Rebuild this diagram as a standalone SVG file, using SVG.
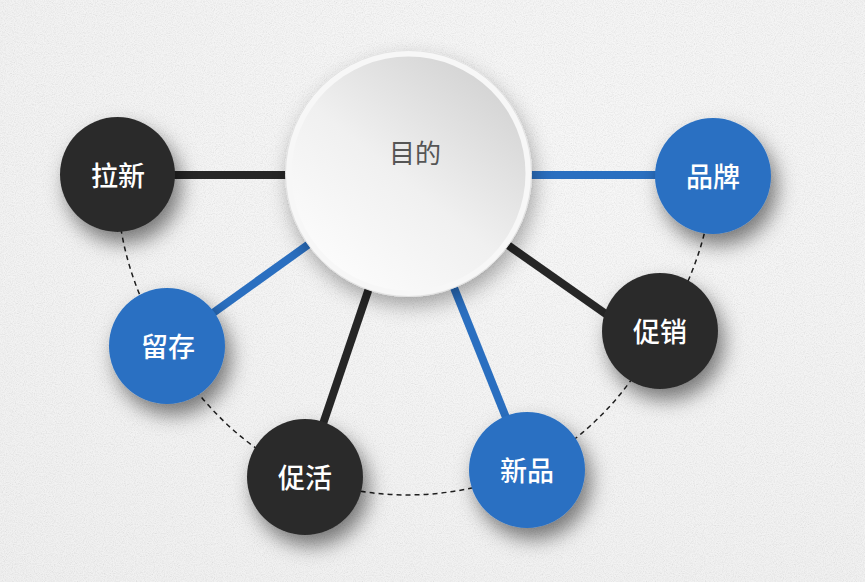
<svg xmlns="http://www.w3.org/2000/svg" width="865" height="582" viewBox="0 0 865 582">
<style>
.lbl{font-family:"Noto Sans CJK SC","Noto Sans",sans-serif;font-size:27px;font-weight:500;fill:#ffffff;text-anchor:middle}
.dark{fill:#2b2b2b}
.blue{fill:#2a70c2}
.ld{stroke:#262626;stroke-width:8;fill:none}
.lb{stroke:#2a6fc0;stroke-width:8;fill:none}
.dash{stroke:#1e1e1e;stroke-width:1.5;fill:none;stroke-dasharray:5 4}
</style>
<defs>
<radialGradient id="bg" cx="0.6" cy="0.3" r="0.9">
<stop offset="0" stop-color="#f3f3f3"/>
<stop offset="1" stop-color="#e8e8e8"/>
</radialGradient>
<filter id="noise" x="0" y="0" width="1" height="1">
<feTurbulence type="fractalNoise" baseFrequency="0.9" numOctaves="2" seed="4"/>
<feColorMatrix type="matrix" values="0.4 0.4 0.4 0 0.3  0.4 0.4 0.4 0 0.3  0.4 0.4 0.4 0 0.3  0 0 0 0 0.35"/>
</filter>
<filter id="sh" x="-60%" y="-60%" width="220%" height="220%">
<feDropShadow dx="6" dy="11" stdDeviation="10" flood-color="#000" flood-opacity="0.5"/>
</filter>
<filter id="shc" x="-30%" y="-30%" width="160%" height="160%">
<feDropShadow dx="3" dy="9" stdDeviation="10" flood-color="#000" flood-opacity="0.32"/>
</filter>
<linearGradient id="cg" x1="0.85" y1="0.1" x2="0.2" y2="0.9">
<stop offset="0" stop-color="#d4d4d4"/>
<stop offset="0.55" stop-color="#f0f0f0"/>
<stop offset="1" stop-color="#fbfbfb"/>
</linearGradient>
</defs>
<rect width="865" height="582" fill="url(#bg)"/>
<rect width="865" height="582" filter="url(#noise)"/>
<g id="connectors">
<path class="dash" d="M117,175 A300,300 0 0 0 167,346 A300,300 0 0 0 305,477 A300,300 0 0 0 527,470 A300,300 0 0 0 660,331 A300,300 0 0 0 713,176"/>
<line class="ld" x1="408" y1="175" x2="117" y2="175"/>
<line class="lb" x1="408" y1="175" x2="713" y2="175"/>
<line class="lb" x1="408" y1="173" x2="167" y2="346"/>
<line class="ld" x1="408" y1="173" x2="305" y2="477"/>
<line class="lb" x1="408" y1="173" x2="527" y2="470"/>
<line class="ld" x1="408" y1="175" x2="640" y2="338"/>
</g>
<g id="center">
<circle cx="408.5" cy="173.5" r="123" fill="#f7f7f7" stroke="#e2e2e2" stroke-width="1" filter="url(#shc)"/>
<circle cx="408.5" cy="173.5" r="117" fill="url(#cg)"/>
<text x="415" y="163" font-family="Noto Sans CJK SC,Noto Sans,sans-serif" font-size="26" fill="#555555" text-anchor="middle">目的</text>
</g>
<g id="n-laxin">
<circle class="dark" cx="117.5" cy="174.5" r="57.5" filter="url(#sh)"/>
<text class="lbl" x="118" y="186">拉新</text>
</g>
<g id="n-liucun">
<circle class="blue" cx="167" cy="346" r="58" filter="url(#sh)"/>
<text class="lbl" x="168" y="357">留存</text>
</g>
<g id="n-cuhuo">
<circle class="dark" cx="305" cy="477" r="58" filter="url(#sh)"/>
<text class="lbl" x="305" y="488">促活</text>
</g>
<g id="n-xinpin">
<circle class="blue" cx="527" cy="470" r="58" filter="url(#sh)"/>
<text class="lbl" x="527" y="481">新品</text>
</g>
<g id="n-cuxiao">
<circle class="dark" cx="660" cy="331" r="58" filter="url(#sh)"/>
<text class="lbl" x="660" y="342">促销</text>
</g>
<g id="n-pinpai">
<circle class="blue" cx="713" cy="176" r="58" filter="url(#sh)"/>
<text class="lbl" x="713" y="187">品牌</text>
</g>
</svg>
